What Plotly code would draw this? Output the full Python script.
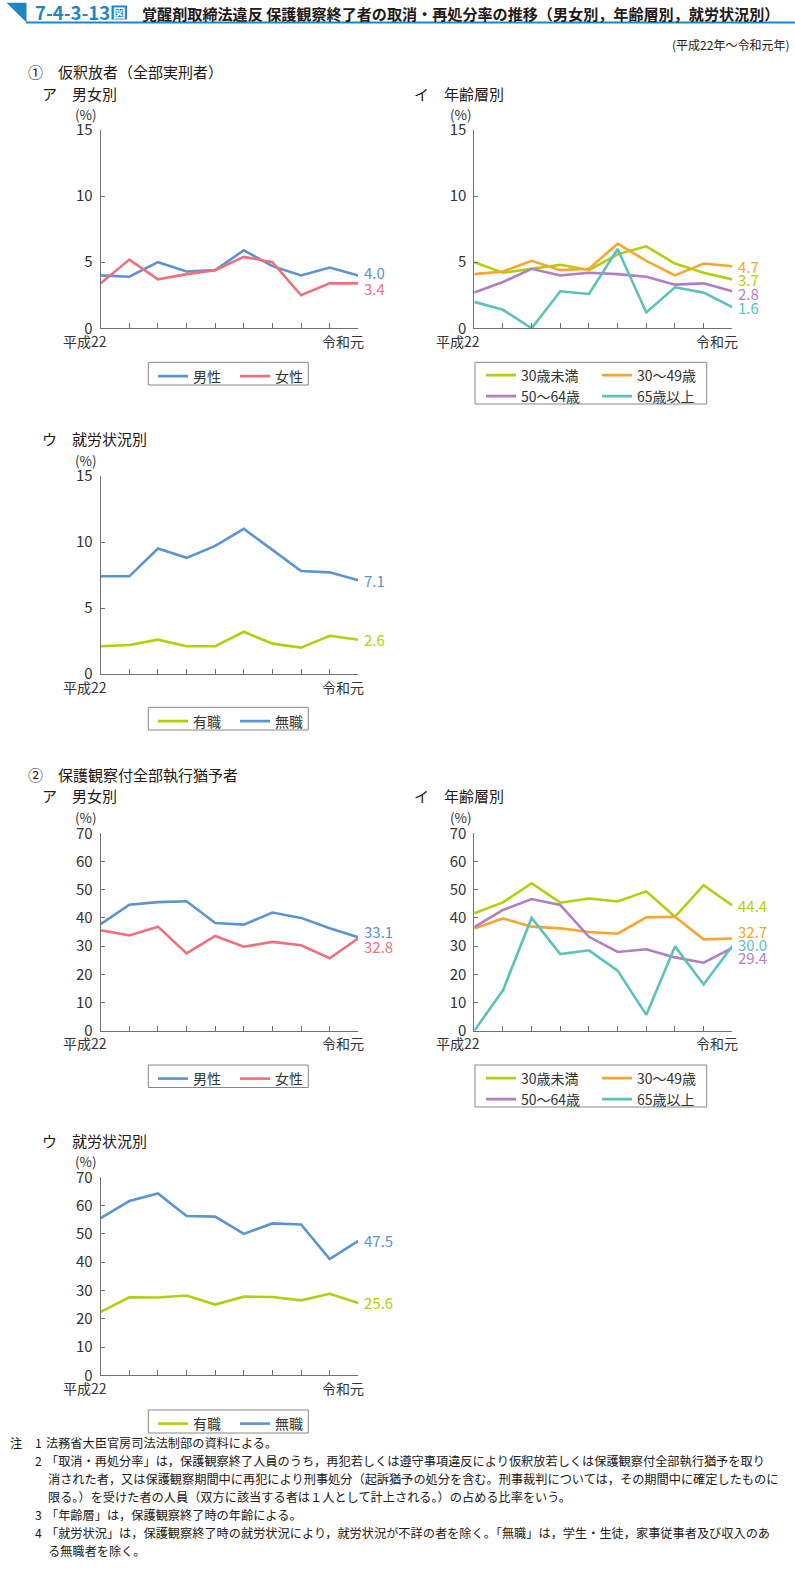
import plotly.graph_objects as go

W, H = 795, 1578
FONT = "Noto Sans CJK JP"

# ---------------- data ----------------
YEARS = ["平成22", "23", "24", "25", "26", "27", "28", "29", "30", "令和元"]
XLABELS = ["平成22", "25", "令和元"]

# ① 仮釈放者（全部実刑者）
P_MALE = [4.0, 3.9, 5.0, 4.3, 4.4, 5.9, 4.7, 4.0, 4.6, 4.0]
P_FEMALE = [3.4, 5.2, 3.7, 4.1, 4.4, 5.4, 5.0, 2.5, 3.4, 3.4]
P_U30 = [5.0, 4.2, 4.5, 4.8, 4.4, 5.6, 6.2, 4.9, 4.2, 3.7]
P_30_49 = [4.1, 4.3, 5.1, 4.4, 4.5, 6.4, 5.1, 4.0, 4.9, 4.7]
P_50_64 = [2.7, 3.5, 4.5, 4.0, 4.2, 4.1, 3.9, 3.3, 3.4, 2.8]
P_65 = [2.0, 1.4, 0.0, 2.8, 2.6, 6.0, 1.2, 3.1, 2.7, 1.6]
P_EMP = [2.1, 2.2, 2.6, 2.1, 2.1, 3.2, 2.3, 2.0, 2.9, 2.6]
P_UNEMP = [7.4, 7.4, 9.5, 8.8, 9.7, 11.0, 9.4, 7.8, 7.7, 7.1]

# ② 保護観察付全部執行猶予者
S_MALE = [37.8, 44.7, 45.6, 45.9, 38.2, 37.6, 41.9, 40.0, 36.3, 33.1]
S_FEMALE = [35.6, 33.8, 36.9, 27.4, 33.6, 29.8, 31.5, 30.3, 25.7, 32.8]
S_U30 = [41.6, 45.5, 52.3, 45.4, 46.9, 45.8, 49.4, 40.4, 51.6, 44.4]
S_30_49 = [36.2, 39.8, 36.9, 36.3, 35.0, 34.4, 40.2, 40.4, 32.4, 32.7]
S_50_64 = [36.7, 42.8, 46.7, 44.6, 33.3, 27.9, 28.9, 26.0, 24.1, 29.4]
S_65 = [0.0, 14.3, 40.0, 27.2, 28.5, 21.3, 5.6, 29.9, 16.4, 30.0]
S_EMP = [22.4, 27.6, 27.5, 28.2, 25.0, 27.8, 27.7, 26.5, 28.8, 25.6]
S_UNEMP = [55.6, 61.6, 64.3, 56.3, 56.1, 50.0, 53.7, 53.3, 41.1, 47.5]

SEX_NAMES = ["男性", "女性"]
AGE_NAMES = ["30歳未満", "30～49歳", "50～64歳", "65歳以上"]
JOB_NAMES = ["有職", "無職"]

NOTES = [
    ("注", "1", "法務省大臣官房司法法制部の資料による。"),
    ("", "2", "「取消・再処分率」は，保護観察終了人員のうち，再犯若しくは遵守事項違反により仮釈放若しくは保護観察付全部執行猶予を取り"),
    ("", "", "消された者，又は保護観察期間中に再犯により刑事処分（起訴猶予の処分を含む。刑事裁判については，その期間中に確定したものに"),
    ("", "", "限る。）を受けた者の人員（双方に該当する者は１人として計上される。）の占める比率をいう。"),
    ("", "3", "「年齢層」は，保護観察終了時の年齢による。"),
    ("", "4", "「就労状況」は，保護観察終了時の就労状況により，就労状況が不詳の者を除く。「無職」は，学生・生徒，家事従事者及び収入のあ"),
    ("", "", "る無職者を除く。"),
]

# ---------------- style ----------------
BLUE = "#5B93D3"
RED = "#EE707D"
YGREEN = "#B3CF0C"
ORANGE = "#F8A431"
PURPLE = "#B17EC4"
TEAL = "#5CC2B9"
AXIS = "#707070"
TXT = "#231815"
HEAD = "#1F86C3"


def pxx(p):
    return p / W


def pxy(p):
    return 1 - p / H


panels = [
    dict(left=100.7, right=358.3, top=130, bottom=328.3, ymax=15, dtick=5, pct=(86, 114),
         series=[(SEX_NAMES[0], P_MALE, BLUE, 3), (SEX_NAMES[1], P_FEMALE, RED, -5)],
         box=(148.3, 362.3, 308.3, 385), rows=[[0, 1]], lx=153, ly=[360.5], ew=37),
    dict(left=474.3, right=732.3, top=130, bottom=328.3, ymax=15, dtick=5, pct=(461, 114),
         series=[(AGE_NAMES[0], P_U30, YGREEN, 0), (AGE_NAMES[1], P_30_49, ORANGE, 0),
                 (AGE_NAMES[2], P_50_64, PURPLE, -2), (AGE_NAMES[3], P_65, TEAL, 0)],
         box=(475, 362.3, 706.7, 404), rows=[[0, 1], [2, 3]], lx=481, ly=[359.5, 380.5], ew=71),
    dict(left=100.7, right=358.3, top=476, bottom=674, ymax=15, dtick=5, pct=(86, 460),
         series=[(JOB_NAMES[0], P_EMP, YGREEN, 0), (JOB_NAMES[1], P_UNEMP, BLUE, 0)],
         box=(148.3, 707.3, 308.3, 730), rows=[[0, 1]], lx=153, ly=[705.5], ew=37),
    dict(left=100.7, right=358.3, top=833.3, bottom=1030.7, ymax=70, dtick=10, pct=(86, 817),
         series=[(SEX_NAMES[0], S_MALE, BLUE, 6), (SEX_NAMES[1], S_FEMALE, RED, -8)],
         box=(148.3, 1065, 308.3, 1087.5), rows=[[0, 1]], lx=153, ly=[1063], ew=37),
    dict(left=474.3, right=732.3, top=833.3, bottom=1030.7, ymax=70, dtick=10, pct=(461, 817),
         series=[(AGE_NAMES[0], S_U30, YGREEN, 0), (AGE_NAMES[1], S_30_49, ORANGE, 7),
                 (AGE_NAMES[2], S_50_64, PURPLE, -10), (AGE_NAMES[3], S_65, TEAL, 2)],
         box=(475, 1065, 706.7, 1107), rows=[[0, 1], [2, 3]], lx=481, ly=[1062.5, 1083.5], ew=71),
    dict(left=100.7, right=358.3, top=1177.3, bottom=1375.3, ymax=70, dtick=10, pct=(86, 1160.5),
         series=[(JOB_NAMES[0], S_EMP, YGREEN, 0), (JOB_NAMES[1], S_UNEMP, BLUE, 0)],
         box=(148.3, 1410, 308.3, 1433), rows=[[0, 1]], lx=153, ly=[1408], ew=37),
]

fig = go.Figure()
layout = dict(
    width=W, height=H, margin=dict(l=0, r=0, t=0, b=0, pad=0, autoexpand=False),
    autosize=False,
    paper_bgcolor="white", plot_bgcolor="white",
    font=dict(family=FONT, color=TXT, size=14),
    showlegend=True,
)
annotations = []
shapes = []
legend_count = 0

for i, p in enumerate(panels):
    n = "" if i == 0 else str(i + 1)
    xa, ya = "x" + n, "y" + n
    layout["xaxis" + n] = dict(
        domain=[pxx(p["left"]), pxx(p["right"])], anchor=ya,
        type="category", categoryorder="array", categoryarray=YEARS,
        range=[0, len(YEARS) - 1], showgrid=False, zeroline=False,
        showline=True, linecolor=AXIS, linewidth=1,
        ticks="inside", ticklen=5, tickcolor=AXIS, tickwidth=1,
        showticklabels=False, fixedrange=True, automargin=False,
    )
    layout["yaxis" + n] = dict(
        domain=[pxy(p["bottom"]), pxy(p["top"])], anchor=xa,
        range=[0, p["ymax"]], tick0=0, dtick=p["dtick"],
        showgrid=False, zeroline=False,
        showline=True, linecolor=AXIS, linewidth=1,
        ticks="inside", ticklen=4, tickcolor=AXIS, tickwidth=1,
        tickfont=dict(size=15, color="#333333", family=FONT),
        ticklabelstandoff=4, fixedrange=True, automargin=False,
    )
    leg_ids = []
    for r, row in enumerate(p["rows"]):
        legend_count += 1
        lid = "legend" if legend_count == 1 else "legend%d" % legend_count
        layout[lid] = dict(
            orientation="h", x=pxx(p["lx"]), y=pxy(p["ly"][r]),
            xanchor="left", yanchor="top", bgcolor="rgba(0,0,0,0)",
            borderwidth=0, font=dict(size=14, color="#333333", family=FONT),
            entrywidth=p["ew"], entrywidthmode="pixels", itemwidth=30,
            tracegroupgap=0,
        )
        for k in row:
            leg_ids.append((k, lid))
    leg_map = dict(leg_ids)
    for k, (name, vals, color, yshift) in enumerate(p["series"]):
        fig.add_trace(go.Scatter(
            x=YEARS, y=vals, name=name, mode="lines",
            line=dict(color=color, width=2.6), xaxis=xa, yaxis=ya,
            legend=leg_map[k], hoverinfo="skip",
        ))
        annotations.append(dict(
            x=YEARS[-1], y=vals[-1], xref=xa, yref=ya, text="%.1f" % vals[-1],
            showarrow=False, xanchor="left", yanchor="middle", xshift=4, yshift=yshift,
            font=dict(size=15, color=color, family=FONT),
        ))
    for lab in XLABELS:
        if lab == "25":
            annotations.append(dict(x=lab, y=0, xref=xa, yref=ya, text=lab, showarrow=False,
                                    xanchor="center", yanchor="top", yshift=-0.5,
                                    font=dict(size=14, color="#333333", family=FONT)))
        else:
            annotations.append(dict(x=lab, y=0, xref=xa, yref=ya, text=lab, showarrow=False,
                                    xanchor="right", yanchor="top", xshift=8, yshift=-0.5,
                                    font=dict(size=14, color="#333333", family=FONT)))
    annotations.append(dict(x=pxx(p["pct"][0]), y=pxy(p["pct"][1]), xref="paper", yref="paper",
                            text="(%)", showarrow=False, xanchor="center", yanchor="middle",
                            font=dict(size=13.5, color="#333333", family=FONT)))
    bx0, by0, bx1, by1 = p["box"]
    shapes.append(dict(type="rect", xref="paper", yref="paper",
                       x0=pxx(bx0), x1=pxx(bx1), y0=pxy(by1), y1=pxy(by0),
                       line=dict(color="#888888", width=1), fillcolor="rgba(0,0,0,0)"))

# ---------------- header ----------------
shapes.append(dict(type="path", xref="paper", yref="paper",
                   path="M %f,%f L %f,%f L %f,%f Z" % (pxx(6.5), pxy(2.7), pxx(26.5), pxy(2.7),
                                                       pxx(26.5), pxy(22.5)),
                   fillcolor=HEAD, line=dict(width=0)))
shapes.append(dict(type="line", xref="paper", yref="paper",
                   x0=pxx(26), x1=pxx(795), y0=pxy(22.5), y1=pxy(22.5),
                   line=dict(color=HEAD, width=2)))
shapes.append(dict(type="rect", xref="paper", yref="paper",
                   x0=pxx(111.5), x1=pxx(127), y0=pxy(19.5), y1=pxy(5.5),
                   fillcolor=HEAD, line=dict(width=0)))
annotations.append(dict(x=pxx(33), y=pxy(12.5), xref="paper", yref="paper", text="<b>7-4-3-13</b>",
                        showarrow=False, xanchor="left", yanchor="middle",
                        font=dict(size=18.5, color=HEAD, family=FONT)))
annotations.append(dict(x=pxx(119.3), y=pxy(12.5), xref="paper", yref="paper", text="<b>図</b>",
                        showarrow=False, xanchor="center", yanchor="middle",
                        font=dict(size=12.5, color="white", family=FONT)))
annotations.append(dict(x=pxx(140), y=pxy(12.8), xref="paper", yref="paper",
                        text="<b>覚醒剤取締法違反 保護観察終了者の取消・再処分率の推移（男女別，年齢層別，就労状況別）</b>",
                        showarrow=False, xanchor="left", yanchor="middle",
                        font=dict(size=15.1, color=TXT, family=FONT)))
annotations.append(dict(x=pxx(791), y=pxy(45), xref="paper", yref="paper",
                        text="(平成22年～令和元年)", showarrow=False, xanchor="right", yanchor="middle",
                        font=dict(size=12, color=TXT, family=FONT)))

section_texts = [
    (26, 72, "①　仮釈放者（全部実刑者）", 15),
    (40, 93, "ア　男女別", 15),
    (412, 93, "イ　年齢層別", 15),
    (40, 438, "ウ　就労状況別", 15),
    (26, 774, "②　保護観察付全部執行猶予者", 15),
    (40, 795, "ア　男女別", 15),
    (412, 795, "イ　年齢層別", 15),
    (40, 1140, "ウ　就労状況別", 15),
]
for x, y, t, s in section_texts:
    annotations.append(dict(x=pxx(x), y=pxy(y), xref="paper", yref="paper", text=t,
                            showarrow=False, xanchor="left", yanchor="middle",
                            font=dict(size=s, color=TXT, family=FONT)))

# ---------------- notes ----------------
note_y0, note_dy = 1443, 18
for j, (head, num, txt) in enumerate(NOTES):
    y = note_y0 + j * note_dy
    if head:
        annotations.append(dict(x=pxx(8), y=pxy(y), xref="paper", yref="paper", text=head,
                                showarrow=False, xanchor="left", yanchor="middle",
                                font=dict(size=12.2, color=TXT, family=FONT)))
    if num:
        annotations.append(dict(x=pxx(33), y=pxy(y), xref="paper", yref="paper", text=num,
                                showarrow=False, xanchor="left", yanchor="middle",
                                font=dict(size=12.2, color=TXT, family=FONT)))
    xt = 44 if num else 46
    annotations.append(dict(x=pxx(xt), y=pxy(y), xref="paper", yref="paper", text=txt,
                            showarrow=False, xanchor="left", yanchor="middle",
                            font=dict(size=12.2, color=TXT, family=FONT)))

layout["annotations"] = annotations
layout["shapes"] = shapes
fig.update_layout(**layout)
# remove the browser's default 8px body margin so the figure fills the window exactly
fig.write_html("out.html", config={"displayModeBar": False},
               post_script="document.body.style.margin='0';")
